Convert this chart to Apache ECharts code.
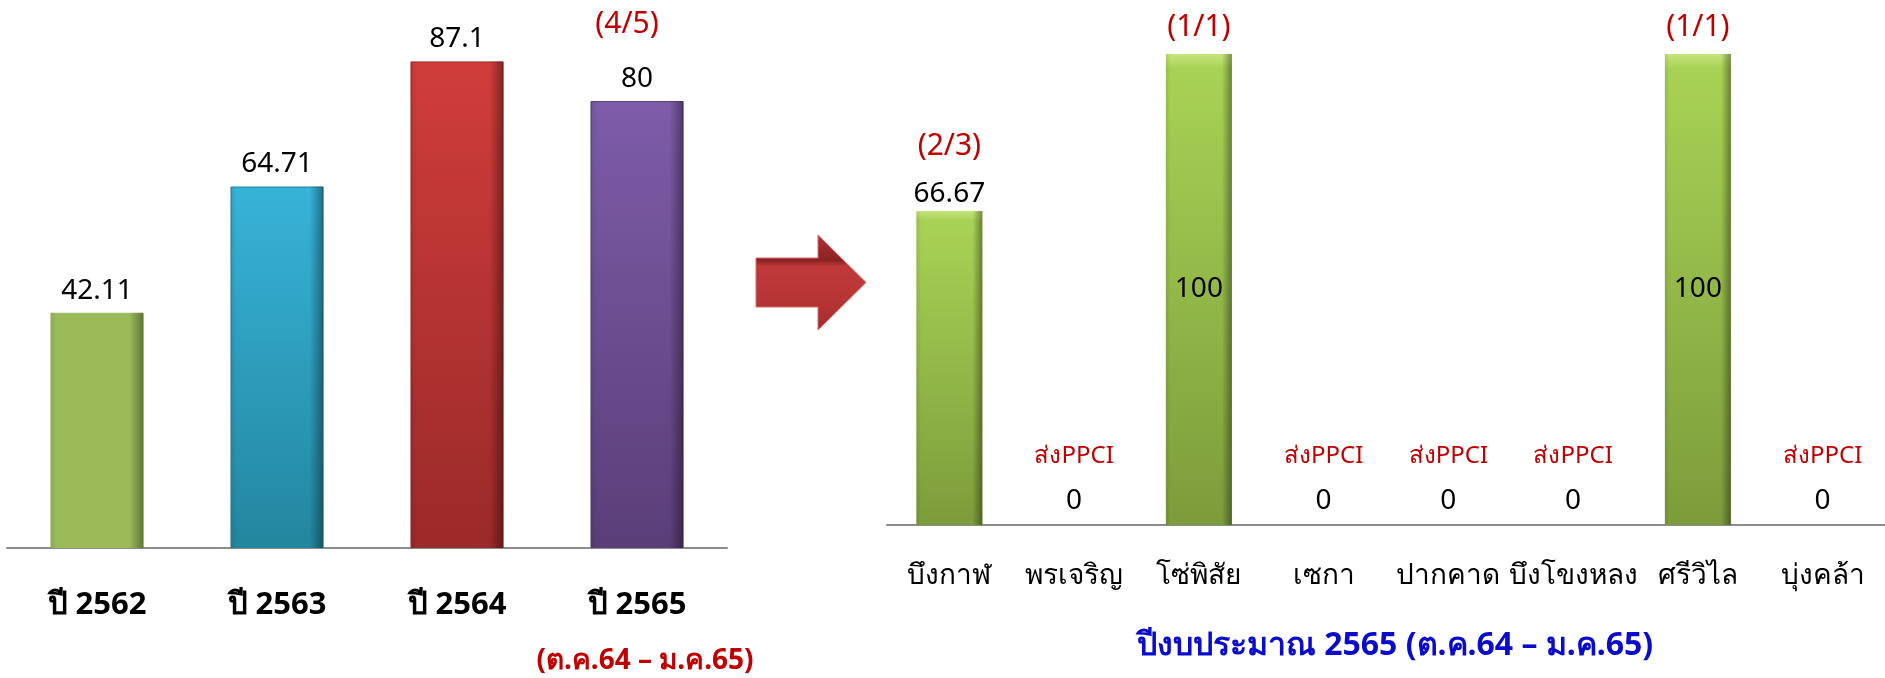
<!DOCTYPE html>
<html><head><meta charset="utf-8">
<script src="https://cdn.jsdelivr.net/npm/echarts@6/dist/echarts.min.js"></script>
<style>html,body{margin:0;padding:0;background:#fff}#c{width:1885px;height:678px}</style>
</head><body><div id="c"></div>
<script>
// ---- data ----
const leftCategories = ['ปี 2562', 'ปี 2563', 'ปี 2564', 'ปี 2565'];
const leftValues = [42.11, 64.71, 87.1, 80];
const leftNotes = ['', '', '', '(4/5)'];
const leftPeriod = '(ต.ค.64 – ม.ค.65)';
const rightCategories = ['บึงกาฬ', 'พรเจริญ', 'โซ่พิสัย', 'เซกา', 'ปากคาด', 'บึงโขงหลง', 'ศรีวิไล', 'บุ่งคล้า'];
const rightValues = [66.67, 0, 100, 0, 0, 0, 100, 0];
const rightNotes = ['(2/3)', 'ส่งPPCI', '(1/1)', 'ส่งPPCI', 'ส่งPPCI', 'ส่งPPCI', '(1/1)', 'ส่งPPCI'];
const rightTitle = 'ปีงบประมาณ 2565 (ต.ค.64 – ม.ค.65)';

// ---- styles ----
const FONT = "'Noto Sans', 'DejaVu Sans', sans-serif";
const leftPalette = [
  ['#9bbb59', '#9bbb59'],
  ['#37b3d8', '#23869f'],
  ['#d03d3b', '#9a2a29'],
  ['#7e5ca8', '#5a3e78']
];
function vgrad(top, bottom) {
  return new echarts.graphic.LinearGradient(0, 0, 0, 1, [
    { offset: 0, color: top }, { offset: 1, color: bottom }
  ]);
}
const sideShade = new echarts.graphic.LinearGradient(0, 0, 1, 0, [
  { offset: 0, color: 'rgba(0,0,0,0.10)' },
  { offset: 0.07, color: 'rgba(0,0,0,0)' },
  { offset: 0.85, color: 'rgba(0,0,0,0)' },
  { offset: 1, color: 'rgba(0,0,0,0.38)' }
]);
const rightGreen = new echarts.graphic.LinearGradient(0, 0, 0, 1, [
  { offset: 0, color: '#c6e47e' },
  { offset: 0.03, color: '#a8d255' },
  { offset: 1, color: '#7c9c3b' }
]);

const chart = echarts.init(document.getElementById('c'), null, { renderer: 'canvas' });
chart.setOption({
  backgroundColor: '#ffffff',
  animation: false,
  textStyle: { fontFamily: FONT },
  grid: [
    { left: 7, width: 720, top: 0, height: 548 },
    { left: 887, width: 1008, top: 54, height: 471 }
  ],
  xAxis: [
    {
      type: 'category', gridIndex: 0, data: leftCategories,
      axisLine: { lineStyle: { color: '#8c8c8c', width: 2 } },
      axisTick: { show: false },
      axisLabel: {
        margin: 36, interval: 0, color: '#000', fontSize: 31, fontWeight: 'bold', fontFamily: FONT,
        formatter: (v, i) => i === leftCategories.length - 1 ? '{a|' + v + '}\n{b|' + leftPeriod + '}' : '{a|' + v + '}',
        rich: {
          a: { fontSize: 31, color: '#000', fontWeight: 'bold', fontFamily: FONT, lineHeight: 42 },
          b: { fontSize: 28, color: '#c00000', fontWeight: 'bold', fontFamily: FONT, lineHeight: 70, padding: [0, 0, 0, 16] }
        }
      }
    },
    {
      type: 'category', gridIndex: 1, data: rightCategories,
      axisLine: { lineStyle: { color: '#8c8c8c', width: 2 } },
      axisTick: { show: false },
      axisLabel: { margin: 37, interval: 0, color: '#000', fontSize: 28, fontFamily: FONT },
      name: rightTitle, nameLocation: 'middle', nameGap: 105,
      nameTextStyle: { color: '#0b0bcc', fontSize: 32, fontWeight: 'bold', fontFamily: FONT, padding: [0, 0, 0, 18] }
    }
  ],
  yAxis: [
    { type: 'value', gridIndex: 0, min: 0, max: 98.1, show: false, splitLine: { show: false } },
    { type: 'value', gridIndex: 1, min: 0, max: 100, show: false, splitLine: { show: false } }
  ],
  graphic: [{
    type: 'polygon',
    shape: { points: [[756, 258], [818, 258], [818, 235], [866, 282.5], [818, 330], [818, 307], [756, 307]] },
    style: {
      fill: new echarts.graphic.LinearGradient(0, 0, 0, 1, [
        { offset: 0, color: '#b23333' }, { offset: 0.27, color: '#8a2222' }, { offset: 0.33, color: '#c03a3a' },
        { offset: 0.7, color: '#b73434' }, { offset: 1, color: '#a02b2b' }
      ]),
      stroke: '#d46b6b', lineWidth: 1
    }
  }],
  series: [
    {
      type: 'bar', xAxisIndex: 0, yAxisIndex: 0, barWidth: 93,
      data: leftValues.map((v, i) => ({
        value: v,
        itemStyle: { color: vgrad(leftPalette[i][0], leftPalette[i][1]), borderColor: leftPalette[i][1], borderWidth: 1 }
      })),
      label: { show: true, position: 'top', distance: 8, color: '#000', fontSize: 28, fontFamily: FONT }
    },
    {
      type: 'bar', xAxisIndex: 0, yAxisIndex: 0, barWidth: 93, barGap: '-100%', silent: true,
      data: leftValues.map(v => v),
      itemStyle: { color: sideShade },
      label: {
        show: true, position: 'top', distance: 62, color: '#c00000', fontSize: 30, fontFamily: FONT,
        padding: [0, 20, 0, 0],
        formatter: p => leftNotes[p.dataIndex]
      }
    },
    {
      type: 'bar', xAxisIndex: 1, yAxisIndex: 1, barWidth: 66,
      data: rightValues.map(v => ({
        value: v,
        label: { position: v >= 100 ? 'inside' : 'top', distance: v > 0 ? 3 : 10 }
      })),
      itemStyle: { color: rightGreen },
      label: { show: true, color: '#000', fontSize: 28, fontFamily: FONT }
    },
    {
      type: 'bar', xAxisIndex: 1, yAxisIndex: 1, barWidth: 66, barGap: '-100%', silent: true,
      data: rightValues.map((v, i) => ({
        value: v,
        label: {
          distance: v >= 100 ? 12 : (v > 0 ? 50 : 57),
          fontSize: rightNotes[i].indexOf('(') === 0 ? 30 : 24
        }
      })),
      itemStyle: { color: sideShade },
      label: {
        show: true, position: 'top', color: '#c00000', fontFamily: FONT,
        formatter: p => rightNotes[p.dataIndex]
      }
    }
  ]
});
</script></body></html>
